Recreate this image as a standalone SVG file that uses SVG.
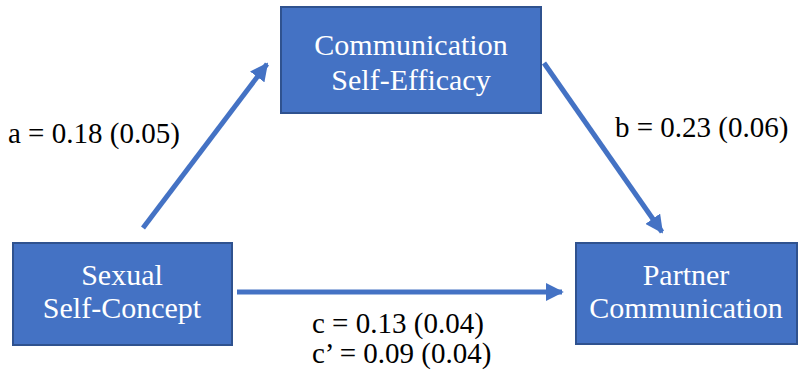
<svg xmlns="http://www.w3.org/2000/svg" width="799" height="376" viewBox="0 0 799 376">
<style>
.box{fill:#4472C4;stroke:#2F528F;stroke-width:2}
.nt{font-family:'Times New Roman','Liberation Serif',serif;font-size:30px;fill:#fff;text-anchor:middle}
.lb{font-family:'Times New Roman','Liberation Serif',serif;font-size:29px;fill:#000}
.ar{stroke:#4472C4;stroke-width:5;fill:none}
</style>
<defs>
<marker id="ah" viewBox="0 0 10 10" refX="9" refY="5" markerWidth="3.6" markerHeight="3.6" orient="auto" markerUnits="strokeWidth">
<path d="M0,0 L10,5 L0,10 Z" fill="#4472C4"/>
</marker>
</defs>
<rect width="799" height="376" fill="#fff"/>
<g id="connectors">
<line class="ar" x1="143" y1="228" x2="267" y2="64" marker-end="url(#ah)"/>
<line class="ar" x1="544" y1="63" x2="662" y2="232" marker-end="url(#ah)"/>
<line class="ar" x1="237" y1="292" x2="562" y2="292" marker-end="url(#ah)"/>
</g>
<g id="node-cse">
<rect class="box" x="281" y="7" width="260" height="106"/>
<text class="nt" x="411" y="55">Communication</text>
<text class="nt" x="411" y="90">Self-Efficacy</text>
</g>
<g id="node-ssc">
<rect class="box" x="13" y="243" width="219" height="102"/>
<text class="nt" x="122" y="285">Sexual</text>
<text class="nt" x="122" y="318">Self-Concept</text>
</g>
<g id="node-pc">
<rect class="box" x="576" y="243" width="221" height="101"/>
<text class="nt" x="686" y="285">Partner</text>
<text class="nt" x="686" y="318">Communication</text>
</g>
<g id="labels">
<text class="lb" x="8" y="143">a = 0.18 (0.05)</text>
<text class="lb" x="615" y="137">b = 0.23 (0.06)</text>
<text class="lb" x="312" y="333">c = 0.13 (0.04)</text>
<text class="lb" x="312" y="363">c&#8217; = 0.09 (0.04)</text>
</g>
</svg>
